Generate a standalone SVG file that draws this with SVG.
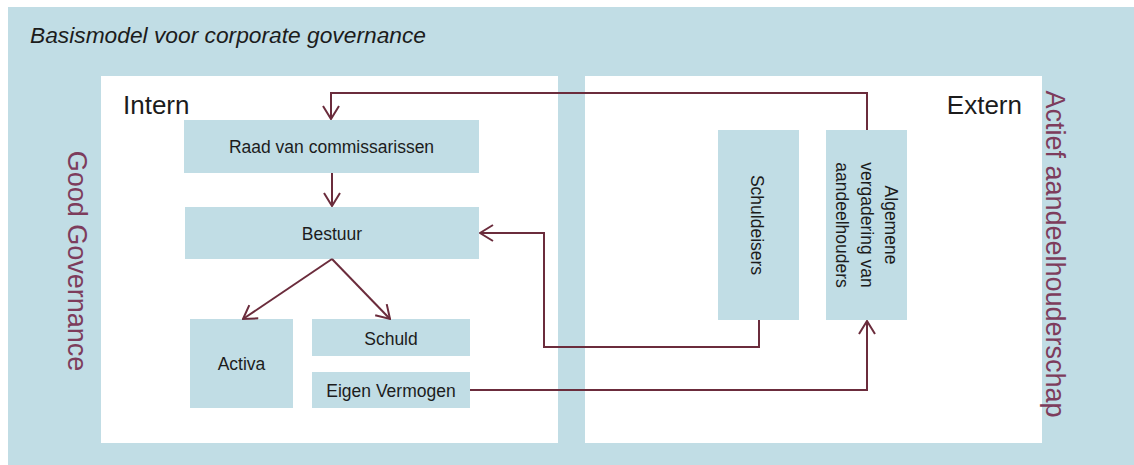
<svg xmlns="http://www.w3.org/2000/svg" width="1134" height="465" viewBox="0 0 1134 465">
<style>
.bg{fill:#c1dde5}
.panel{fill:#ffffff}
.box{fill:#c1dde5}
.t{font-family:"Liberation Sans",Arial,sans-serif;fill:#1c1c1c}
.bt{font-family:"Liberation Sans",Arial,sans-serif;font-size:17.5px;fill:#1c1c1c;text-anchor:middle}
.side{font-family:"Liberation Sans",Arial,sans-serif;font-size:27px;fill:#7d3c5c;text-anchor:middle}
.conn{fill:none;stroke:#6b2c3c;stroke-width:2}
</style>
<defs>
<marker id="arr" viewBox="0 0 16 18" refX="15" refY="9" markerWidth="16" markerHeight="18" markerUnits="userSpaceOnUse" orient="auto">
<path d="M2,1 L15,9 L2,17" fill="none" stroke="#6b2c3c" stroke-width="2"/>
</marker>
</defs>
<rect class="bg" x="8" y="7" width="1126" height="458"/>
<text class="t" x="30" y="43" font-size="21.5" font-style="italic" textLength="396" lengthAdjust="spacingAndGlyphs">Basismodel voor corporate governance</text>
<g id="intern">
<rect class="panel" x="101" y="76" width="457" height="367"/>
<text class="t" x="123" y="114" font-size="26">Intern</text>
</g>
<g id="extern">
<rect class="panel" x="585" y="76" width="457" height="367"/>
<text class="t" x="1022" y="114" font-size="26" text-anchor="end">Extern</text>
</g>
<g id="good-governance">
<text class="side" transform="translate(68,261) rotate(90)">Good Governance</text>
</g>
<g id="actief-aandeelhouderschap">
<text class="side" transform="translate(1046,254) rotate(90)">Actief aandeelhouderschap</text>
</g>
<g id="raad">
<rect class="box" x="184" y="120" width="295" height="53"/>
<text class="bt" x="331.5" y="153">Raad van commissarissen</text>
</g>
<g id="bestuur">
<rect class="box" x="185" y="207" width="294" height="52"/>
<text class="bt" x="332" y="240">Bestuur</text>
</g>
<g id="activa">
<rect class="box" x="190" y="319" width="103" height="89"/>
<text class="bt" x="241.5" y="370">Activa</text>
</g>
<g id="schuld">
<rect class="box" x="312" y="319" width="158" height="37"/>
<text class="bt" x="391" y="345">Schuld</text>
</g>
<g id="eigen-vermogen">
<rect class="box" x="312" y="372" width="158" height="36"/>
<text class="bt" x="391" y="397">Eigen Vermogen</text>
</g>
<g id="schuldeisers">
<rect class="box" x="718" y="130" width="81" height="190"/>
<text class="bt" transform="translate(751,225) rotate(90)">Schuldeisers</text>
</g>
<g id="algemene-vergadering">
<rect class="box" x="826" y="130" width="81" height="190"/>
<text class="bt" font-size="18" transform="translate(885,225) rotate(90)">Algemene</text>
<text class="bt" font-size="18" transform="translate(861,225) rotate(90)">vergadering van</text>
<text class="bt" font-size="18" transform="translate(836,225) rotate(90)">aandeelhouders</text>
</g>
<g id="connectors">
<path class="conn" d="M867,130 V93 H331 V119" marker-end="url(#arr)"/>
<path class="conn" d="M332,173 V206" marker-end="url(#arr)"/>
<path class="conn" d="M332,259 L243,319" marker-end="url(#arr)"/>
<path class="conn" d="M332,259 L390,319" marker-end="url(#arr)"/>
<path class="conn" d="M759,320 V347 H544 V233 H480" marker-end="url(#arr)"/>
<path class="conn" d="M470,390 H867 V321" marker-end="url(#arr)"/>
</g>
</svg>
